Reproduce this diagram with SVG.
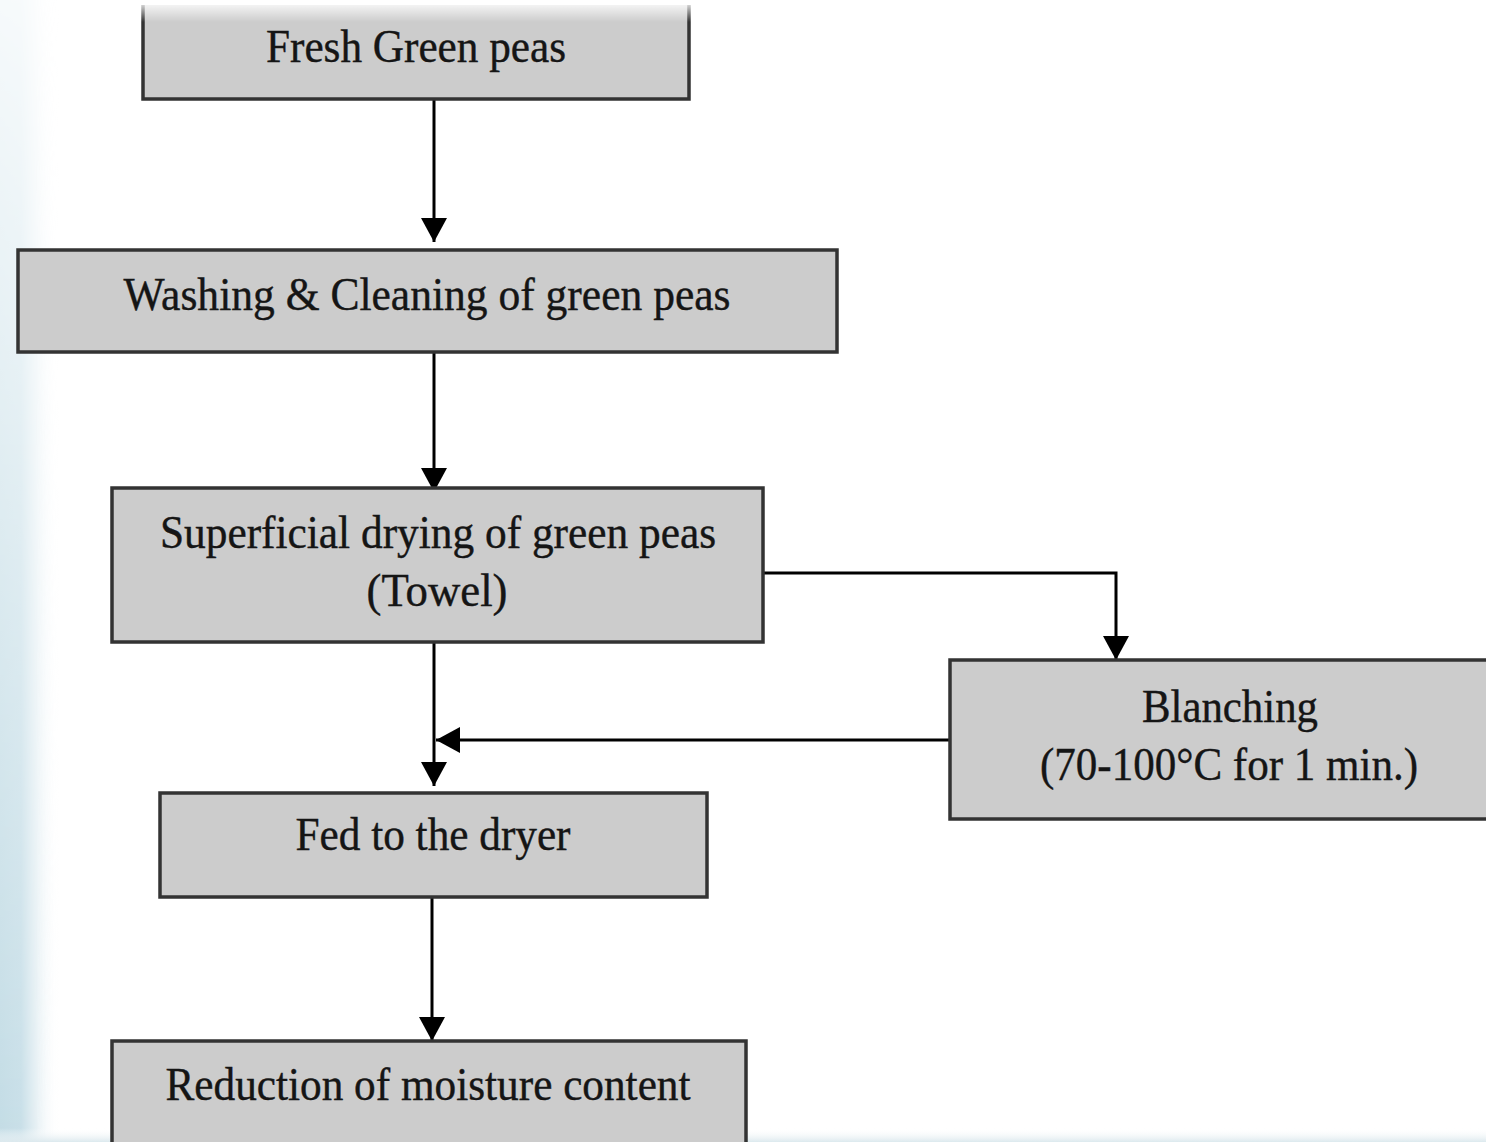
<svg xmlns="http://www.w3.org/2000/svg" width="1486" height="1142" viewBox="0 0 1486 1142">
<defs>
<marker id="ah" viewBox="0 0 24 26" refX="24" refY="13" markerWidth="24" markerHeight="26" markerUnits="userSpaceOnUse" orient="auto">
<path d="M0,0 L24,13 L0,26 Z" fill="#000"/>
</marker>
<linearGradient id="lg" x1="0" y1="0" x2="1" y2="0">
<stop offset="0" stop-color="#c3dce5"/>
<stop offset="0.35" stop-color="#c8dfe8"/>
<stop offset="0.6" stop-color="#e6f0f4"/>
<stop offset="1" stop-color="#ffffff" stop-opacity="0"/>
</linearGradient>
<linearGradient id="vg" x1="0" y1="0" x2="0" y2="1">
<stop offset="0" stop-color="#fff" stop-opacity="0.15"/>
<stop offset="0.5" stop-color="#fff" stop-opacity="0.6"/>
<stop offset="1" stop-color="#fff" stop-opacity="1"/>
</linearGradient>
<mask id="vm"><rect x="0" y="0" width="80" height="1142" fill="url(#vg)"/></mask>
<linearGradient id="bg" x1="0" y1="0" x2="0" y2="1">
<stop offset="0" stop-color="#ffffff" stop-opacity="0"/>
<stop offset="1" stop-color="#dce9ee"/>
</linearGradient>
<linearGradient id="tg" x1="0" y1="0" x2="0" y2="1">
<stop offset="0" stop-color="#ffffff"/>
<stop offset="1" stop-color="#ffffff" stop-opacity="0"/>
</linearGradient>
</defs>
<style>
.box{fill:#cccccc;stroke:#333333;stroke-width:3.5}
.t{font-family:"Liberation Serif","Times New Roman",serif;font-size:46px;fill:#151515;text-anchor:middle;stroke:#151515;stroke-width:0.4}
.c{fill:none;stroke:#000;stroke-width:3}
</style>
<rect x="0" y="0" width="1486" height="1142" fill="#ffffff"/>
<rect x="0" y="0" width="60" height="1142" fill="url(#lg)" mask="url(#vm)"/>
<rect x="0" y="1128" width="1486" height="14" fill="url(#bg)"/>

<g id="connectors">
<line class="c" x1="434" y1="99" x2="434" y2="242" marker-end="url(#ah)"/>
<line class="c" x1="434" y1="352" x2="434" y2="492" marker-end="url(#ah)"/>
<line class="c" x1="434" y1="642" x2="434" y2="786" marker-end="url(#ah)"/>
<polyline class="c" points="763,573 1116,573 1116,660" marker-end="url(#ah)"/>
<line class="c" x1="950" y1="740" x2="436" y2="740" marker-end="url(#ah)"/>
<line class="c" x1="432" y1="897" x2="432" y2="1041" marker-end="url(#ah)"/>
</g>

<g id="n1">
<rect x="143" y="5" width="546" height="94" fill="#cccccc"/>
<path d="M143,5 L143,99 L689,99 L689,5" fill="none" stroke="#333" stroke-width="3.5"/>
<rect x="140" y="0" width="552" height="22" fill="url(#tg)"/>
<text class="t" x="416" y="62" textLength="300" lengthAdjust="spacingAndGlyphs">Fresh Green peas</text>
</g>
<g id="n2">
<rect class="box" x="18" y="250" width="819" height="102"/>
<text class="t" x="427" y="310" textLength="607" lengthAdjust="spacingAndGlyphs">Washing &amp; Cleaning of green peas</text>
</g>
<g id="n3">
<rect class="box" x="112" y="488" width="651" height="154"/>
<text class="t" x="438" y="548" textLength="556" lengthAdjust="spacingAndGlyphs">Superficial drying of green peas</text>
<text class="t" x="437" y="606" textLength="141" lengthAdjust="spacingAndGlyphs">(Towel)</text>
</g>
<g id="n4">
<rect class="box" x="950" y="660" width="540" height="159"/>
<text class="t" x="1230" y="722" textLength="176" lengthAdjust="spacingAndGlyphs">Blanching</text>
<text class="t" x="1229" y="780" textLength="378" lengthAdjust="spacingAndGlyphs">(70-100°C for 1 min.)</text>
</g>
<g id="n5">
<rect class="box" x="160" y="793" width="547" height="104"/>
<text class="t" x="433" y="850" textLength="275" lengthAdjust="spacingAndGlyphs">Fed to the dryer</text>
</g>
<g id="n6">
<rect class="box" x="112" y="1041" width="634" height="110"/>
<text class="t" x="428" y="1100" textLength="525" lengthAdjust="spacingAndGlyphs">Reduction of moisture content</text>
</g>
</svg>
